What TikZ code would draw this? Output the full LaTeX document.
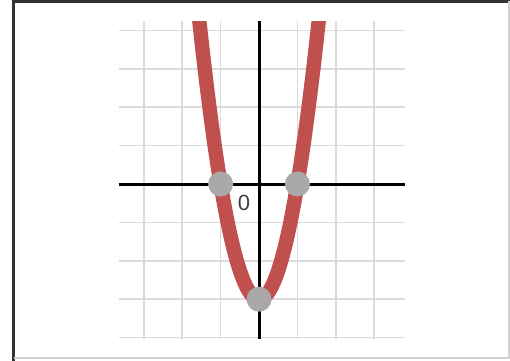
\documentclass[tikz,border=0pt]{standalone}
\usepackage{fontspec}
\setsansfont{Liberation Sans}
\usepackage{tikz}
\definecolor{curvered}{RGB}{192,80,77}
\definecolor{dotgray}{RGB}{170,168,168}
\tikzset{
    gridline/.style={draw=gray!28, line width=0.75pt},
    axisline/.style={draw=black, line width=1.5pt},
    curveline/.style={draw=curvered, line width=7.2pt},
    dot/.style={circle, fill=dotgray, inner sep=0pt, minimum size=12.5pt},
    ticklabel/.style={font=\sffamily\fontsize{11}{13}\selectfont, text=black!75},
}
\begin{document}
\begin{tikzpicture}[x=19.2pt, y=19.2pt]
    % Frame
    \useasboundingbox (-6.745,-4.609) rectangle (6.536,4.792);
    \draw[black!80, line width=1.5pt] (-6.393,-4.609) -- (-6.393,4.753) -- (6.536,4.753);
    \draw[gray!35, line width=0.6pt] (-6.393,-4.531) -- (6.51,-4.531) -- (6.51,4.753);
    
    % Grid
    \foreach \y in {-4,...,4}
        \draw[gridline] (-3.65,\y) -- (3.8,\y);
    \foreach \x in {-3,...,3}
        \draw[gridline] (\x,-4.04) -- (\x,4.24);
    
    % Axes
    \draw[axisline] (-3.65,0) -- (3.8,0);
    \draw[axisline] (0,-4.04) -- (0,4.24);
    \node[ticklabel] (zero) at (-0.39,-0.5) {0};
    
    % Parabola
    \begin{scope}
        \clip (-3.65,-4.2) rectangle (3.8,4.24);
        \draw[curveline] plot[domain=-1.6:1.6, samples=80, smooth] (\x,{3*\x*\x-3});
    \end{scope}
    
    % Points
    \node[dot] (rootL) at (-1,0) {};
    \node[dot] (rootR) at (1,0) {};
    \node[dot] (vertex) at (0,-3) {};
\end{tikzpicture}
\end{document}
